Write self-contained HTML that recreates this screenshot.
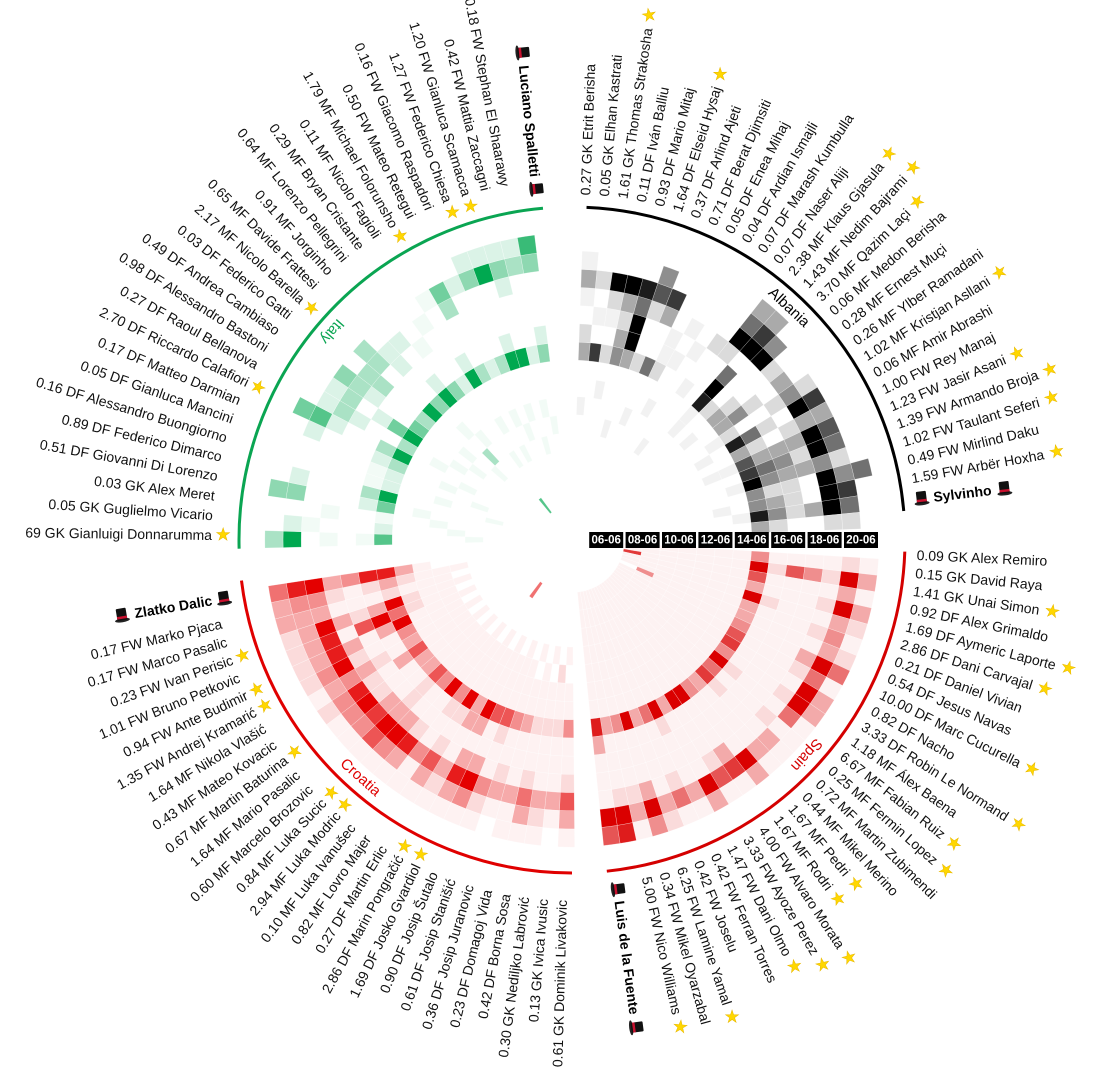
<!DOCTYPE html>
<html>
<head>
<meta charset="utf-8">
<style>
  html,body{margin:0;padding:0;background:#fff;}
  svg{display:block;}
  .lbl{font-family:"Liberation Sans",sans-serif;font-size:14px;fill:#111;}
  .coach{font-family:"Liberation Sans",sans-serif;font-size:14px;font-weight:bold;fill:#000;}
  .star{font-family:"DejaVu Sans",sans-serif;font-size:17px;fill:#FFD700;stroke:#e8b800;stroke-width:0.5;}
  .date{font-family:"Liberation Sans",sans-serif;font-size:11.5px;font-weight:bold;fill:#fff;}
  .team{font-family:"Liberation Sans",sans-serif;font-size:15px;}
</style>
</head>
<body>
<svg id="chart" width="1096" height="1080" viewBox="0 0 1096 1080" xmlns="http://www.w3.org/2000/svg">
  <g id="cells"></g>
  <g id="arcs"></g>
  <g id="labels"></g>
  <g id="dates"></g>
</svg>
<script>
// ---- data (cells: one string per player, 16 rings = days 06-06..21-06, values 0-9) ----
const dates = ["06-06","08-06","10-06","12-06","14-06","16-06","18-06","20-06"];

const albaniaLabels = ["0.27 GK Etrit Berisha","0.05 GK Elhan Kastrati","1.61 GK Thomas Strakosha","0.11 DF Iván Balliu","0.93 DF Mario Mitaj","1.64 DF Elseid Hysaj","0.37 DF Arlind Ajeti","0.71 DF Berat Djimsiti","0.05 DF Enea Mihaj","0.04 DF Ardian Ismajli","0.07 DF Marash Kumbulla","0.07 DF Naser Aliji","2.38 MF Klaus Gjasula","1.43 MF Nedim Bajrami","3.70 MF Qazim Laçi","0.06 MF Medon Berisha","0.28 MF Ernest Muçi","0.26 MF Ylber Ramadani","1.02 MF Kristjan Asllani","0.06 MF Amir Abrashi","1.00 FW Rey Manaj","1.23 FW Jasir Asani","1.39 FW Armando Broja","1.02 FW Taulant Seferi","0.49 FW Mirlind Daku","1.59 FW Arbër Hoxha"];
const albaniaStars = [2,5,12,13,14,18,21,22,23,25];
const albaniaCells = [
"0000001003201310","0000000007010200","0000000102012900","0000000004323900",
"0000010003995800","0000000002002640","0000001005003700","0000000002110000",
"0000000100101000","0000000000010000","0000010001002000","0000000000002953",
"0000000118950973","0000000002000940","0000000103200200","0000000003420300",
"0000000012002420","0000000108520970","0000000003202330","0000000116333960",
"0000000007542950","0000000019433420","0000000004220945","0000000104320970",
"0000000018423950","0000000003200220"];

const spainLabels = ["0.09 GK Alex Remiro","0.15 GK David Raya","1.41 GK Unai Simon","0.92 DF Alex Grimaldo","1.69 DF Aymeric Laporte","2.86 DF Dani Carvajal","0.21 DF Daniel Vivian","0.54 DF Jesus Navas","10.00 DF Marc Cucurella","0.82 DF Nacho","3.33 DF Robin Le Normand","1.18 MF Álex Baena","6.67 MF Fabian Ruiz","0.25 MF Fermin Lopez","0.72 MF Martin Zubimendi","0.44 MF Mikel Merino","1.67 MF Pedri","1.67 MF Rodri","4.00 FW Alvaro Morata","3.33 FW Ayoze Perez","1.47 FW Dani Olmo","0.42 FW Ferran Torres","0.42 FW Joselu","6.25 FW Lamine Yamal","0.34 FW Mikel Oyarzabal","5.00 FW Nico Williams"];
const spainStars = [2,4,5,8,10,12,13,16,17,18,19,20,23,25];
const spainCells = [
"0011111114111121","0011111119264293","0071111116111131","0011111113111293",
"0011111119211132","0011111113111241","0004111113111132","0011111114111395",
"0011111116111251","0011111117111193","0011111114111293","0011111119211151",
"0011111115111211","0011111117211131","0011111113111131","0011111114111193",
"0011111119111371","0011111119111261","0011111113111193","0011111119211131",
"0011111115111251","0011111113111132","0011111119111394","0011111114111231",
"0011111113111298","0011111118311196"];

const croatiaLabels = ["0.61 GK Dominik Livakovic","0.13 GK Ivica Ivusic","0.30 GK Nediljko Labrović","0.42 DF Borna Sosa","0.23 DF Domagoj Vida","0.36 DF Josip Juranovic","0.61 DF Josip Stanišić","0.90 DF Josip Šutalo","1.69 DF Josko Gvardiol","2.86 DF Marin Pongračić","0.27 DF Martin Erlic","0.82 MF Lovro Majer","0.10 MF Luka Ivanušec","2.94 MF Luka Modric","0.84 MF Luka Sucic","0.60 MF Marcelo Brozovic","1.64 MF Mario Pasalic","0.67 MF Martin Baturina","0.43 MF Mateo Kovacic","1.64 MF Nikola Vlašić","1.35 FW Andrej Kramarić","0.94 FW Ante Budimir","1.01 FW Bruno Petkovic","0.23 FW Ivan Perisic","0.17 FW Marco Pasalic","0.17 FW Marko Pjaca"];
const croatiaStars = [8,9,13,14,17,20,21,23];
const croatiaCells = [
"0000010114112631","0000002112111310","0000010112111321","0000001112112531",
"0000010113111311","0000001114112310","0000011116211421","0000001116113941",
"0000011119313831","0000001113311321","0000011119212631","0050001114211411",
"0000011119112831","0000001114113941","0000011116223961","0000001113113741",
"0000011113112941","0000001116312842","0000011113123431","0000001114112942",
"0000011119313832","0000001125961832","0000011129323932","0000001112111333",
"0000011123212443","0000000138843985"];

const italyLabels = ["69 GK Gianluigi Donnarumma","0.05 GK Guglielmo Vicario","0.03 GK Alex Meret","0.51 DF Giovanni Di Lorenzo","0.89 DF Federico Dimarco","0.16 DF Alessandro Buongiorno","0.05 DF Gianluca Mancini","0.17 DF Matteo Darmian","2.70 DF Riccardo Calafiori","0.27 DF Raoul Bellanova","0.98 DF Alessandro Bastoni","0.49 DF Andrea Cambiaso","0.03 DF Federico Gatti","2.17 MF Nicolo Barella","0.65 MF Davide Frattesi","0.91 MF Jorginho","0.64 MF Lorenzo Pellegrini","0.29 MF Bryan Cristante","0.11 MF Nicolo Fagioli","1.79 MF Michael Folorunsho","0.50 FW Mateo Retegui","0.16 FW Giacomo Raspadori","1.27 FW Federico Chiesa","1.20 FW Gianluca Scamacca","0.42 FW Mattia Zaccagni","0.18 FW Stephan El Shaarawy"];
const italyStars = [0,8,13,19,22,23];
const italyCells = [
"0000100006101093","0000010002000120","0000001001001000","0000000105200044",
"0001000009300020","0000001002100000","0000100002100000","0000001003200020",
"0000010009300265","0000000103002320","0000001009520320","0000010005002340",
"0000001003003300","0000100009000330","0000030104002200","0000001009200200",
"0600000004001000","0000100002000100","0000001009200010","0000100003000350",
"0000001002000020","0000010003000042","0000001009200092","0000100009000242",
"0000001002000032","0000010004200047"];

const coaches = ["Sylvinho","Luis de la Fuente","Zlatko Dalic","Luciano Spalletti"];
const teamNames = ["Albania","Spain","Croatia","Italy"];

// ---- geometry / styling ----
const CX=572, CY=540, R0=16, RW=18.2, NS="http://www.w3.org/2000/svg";
const teams = [
 {name:teamNames[0], coach:coaches[0], labels:albaniaLabels, stars:albaniaStars, cells:albaniaCells, col:[0,0,0], stroke:"#000",
  cStart:2, cStep:3.3, lStart:2.2, lStep:3.1, coachA:83.2, arc:[2.5,85], nameA:43, side:"right"},
 {name:teamNames[1], coach:coaches[1], labels:spainLabels, stars:spainStars, cells:spainCells, col:[218,0,0], stroke:"#d40000",
  cStart:93.5, cStep:3.1, lStart:92.5, lStep:3.0, coachA:172.5, arc:[92,174], nameA:132.5, side:"right"},
 {name:teamNames[2], coach:coaches[2], labels:croatiaLabels, stars:croatiaStars, cells:croatiaCells, col:[228,0,0], stroke:"#e00000",
  cStart:179.5, cStep:3.15, lStart:181.6, lStep:3.0, coachA:260.5, arc:[180,263], nameA:221.7, side:"left"},
 {name:teamNames[3], coach:coaches[3], labels:italyLabels, stars:italyStars, cells:italyCells, col:[0,168,80], stroke:"#0aa552",
  cStart:268.5, cStep:3.25, lStart:270.8, lStep:3.14, coachA:354.2, arc:[268.5,355], nameA:311, side:"left"}
];

function pt(r,a){const t=a*Math.PI/180;return [CX+r*Math.sin(t), CY-r*Math.cos(t)];}
function f(p){return p[0].toFixed(2)+","+p[1].toFixed(2);}
function sector(r0,r1,a0,a1){
  return "M"+f(pt(r0,a0))+"L"+f(pt(r1,a0))+"A"+r1+","+r1+" 0 0 1 "+f(pt(r1,a1))+
         "L"+f(pt(r0,a1))+"A"+r0+","+r0+" 0 0 0 "+f(pt(r0,a0))+"Z";
}
function shade(v){return v===1?0.05:(v===2?0.14:v/9);}
function mix(c,t){return "rgb("+c.map(v=>Math.round(255+(v-255)*t)).join(",")+")";}
function el(tag,attrs,parent){const e=document.createElementNS(NS,tag);for(const k in attrs)e.setAttribute(k,attrs[k]);parent.appendChild(e);return e;}

const gCells=document.getElementById("cells"), gArcs=document.getElementById("arcs"),
      gLabels=document.getElementById("labels"), gDates=document.getElementById("dates");

function hat(parent,x){
  const g=el("g",{transform:"translate("+x+",0)"},parent);
  
  
  el("ellipse",{cx:7,cy:5,rx:7.5,ry:2,fill:"#222"},g);
  el("rect",{x:2,y:-7,width:10,height:12,rx:1,fill:"#111"},g);
  el("rect",{x:2,y:1,width:10,height:2.5,fill:"#c8102e"},g);
}

teams.forEach(T=>{
  const slug=T.name.toLowerCase();
  T.cells.forEach((row,p)=>{
    const a0=T.cStart+p*T.cStep, a1=a0+T.cStep;
    for(let i=0;i<row.length;i++){
      const v=+row[i]; if(!v) continue;
      const path=el("path",{d:sector(R0+RW*i,R0+RW*(i+1),a0,a1),fill:mix(T.col,shade(v)),stroke:"#fff","stroke-width":0.25},gCells);
      
      
    }
  });
  const p0=pt(333,T.arc[0]), p1=pt(333,T.arc[1]);
  const arc=el("path",{d:"M"+f(p0)+"A333,333 0 0 1 "+f(p1),fill:"none",stroke:T.stroke,"stroke-width":3},gArcs);
  
  
  const np=pt(318,T.nameA);
  const rot=T.side==="right"?T.nameA:T.nameA-180;
  const tn=el("text",{x:0,y:0,class:"team",fill:T.stroke,"text-anchor":"middle","dominant-baseline":"central",
     transform:"translate("+f(np)+") rotate("+rot+")"},gArcs);
  tn.textContent=T.name;
  
  
  T.labels.forEach((txt,i)=>{
    const a=T.lStart+i*T.lStep;
    const star=T.stars.indexOf(i)>=0;
    let g;
    if(T.side==="right"){
      g=el("g",{transform:"translate("+f(pt(345,a))+") rotate("+(a-90)+")"},gLabels);
      const t=el("text",{x:0,y:0,class:"lbl","dominant-baseline":"central"},g);
      t.textContent=txt;
      if(star){
        const w=t.getComputedTextLength();
        const s=el("text",{x:w+13,y:0,class:"star","text-anchor":"middle","dominant-baseline":"central"},g);
        s.textContent="★";
        
        
      }
    } else {
      g=el("g",{transform:"translate("+f(pt(360,a))+") rotate("+(a+90)+")"},gLabels);
      const t=el("text",{x:0,y:0,class:"lbl","text-anchor":"end","dominant-baseline":"central"},g);
      t.textContent=txt;
      if(star){
        const s=el("text",{x:11,y:0,class:"star","text-anchor":"middle","dominant-baseline":"central"},g);
        s.textContent="★";
        
        
      }
    }
    
    
  });
  const a=T.coachA;
  let cg;
  if(T.side==="right"){
    cg=el("g",{transform:"translate("+f(pt(345,a))+") rotate("+(a-90)+")"},gLabels);
    hat(cg,0);
    const t=el("text",{x:19,y:0,class:"coach","dominant-baseline":"central"},cg);
    t.textContent=T.coach;
    hat(cg,19+t.getComputedTextLength()+6);
  } else {
    cg=el("g",{transform:"translate("+f(pt(345,a))+") rotate("+(a+90)+")"},gLabels);
    hat(cg,-15);
    const t=el("text",{x:-20,y:0,class:"coach","text-anchor":"end","dominant-baseline":"central"},cg);
    t.textContent=T.coach;
    hat(cg,-20-t.getComputedTextLength()-20);
  }
  
  
});

dates.forEach((d,k)=>{
  const r=R0+RW*(2*k+1), x=CX+r;
  const g=el("g",{},gDates);
  
  
  el("rect",{x:x-17,y:532,width:34,height:16,fill:"#000"},g);
  const t=el("text",{x:x,y:540.5,class:"date","text-anchor":"middle","dominant-baseline":"central"},g);
  t.textContent=d;
});
</script>
</body>
</html>
